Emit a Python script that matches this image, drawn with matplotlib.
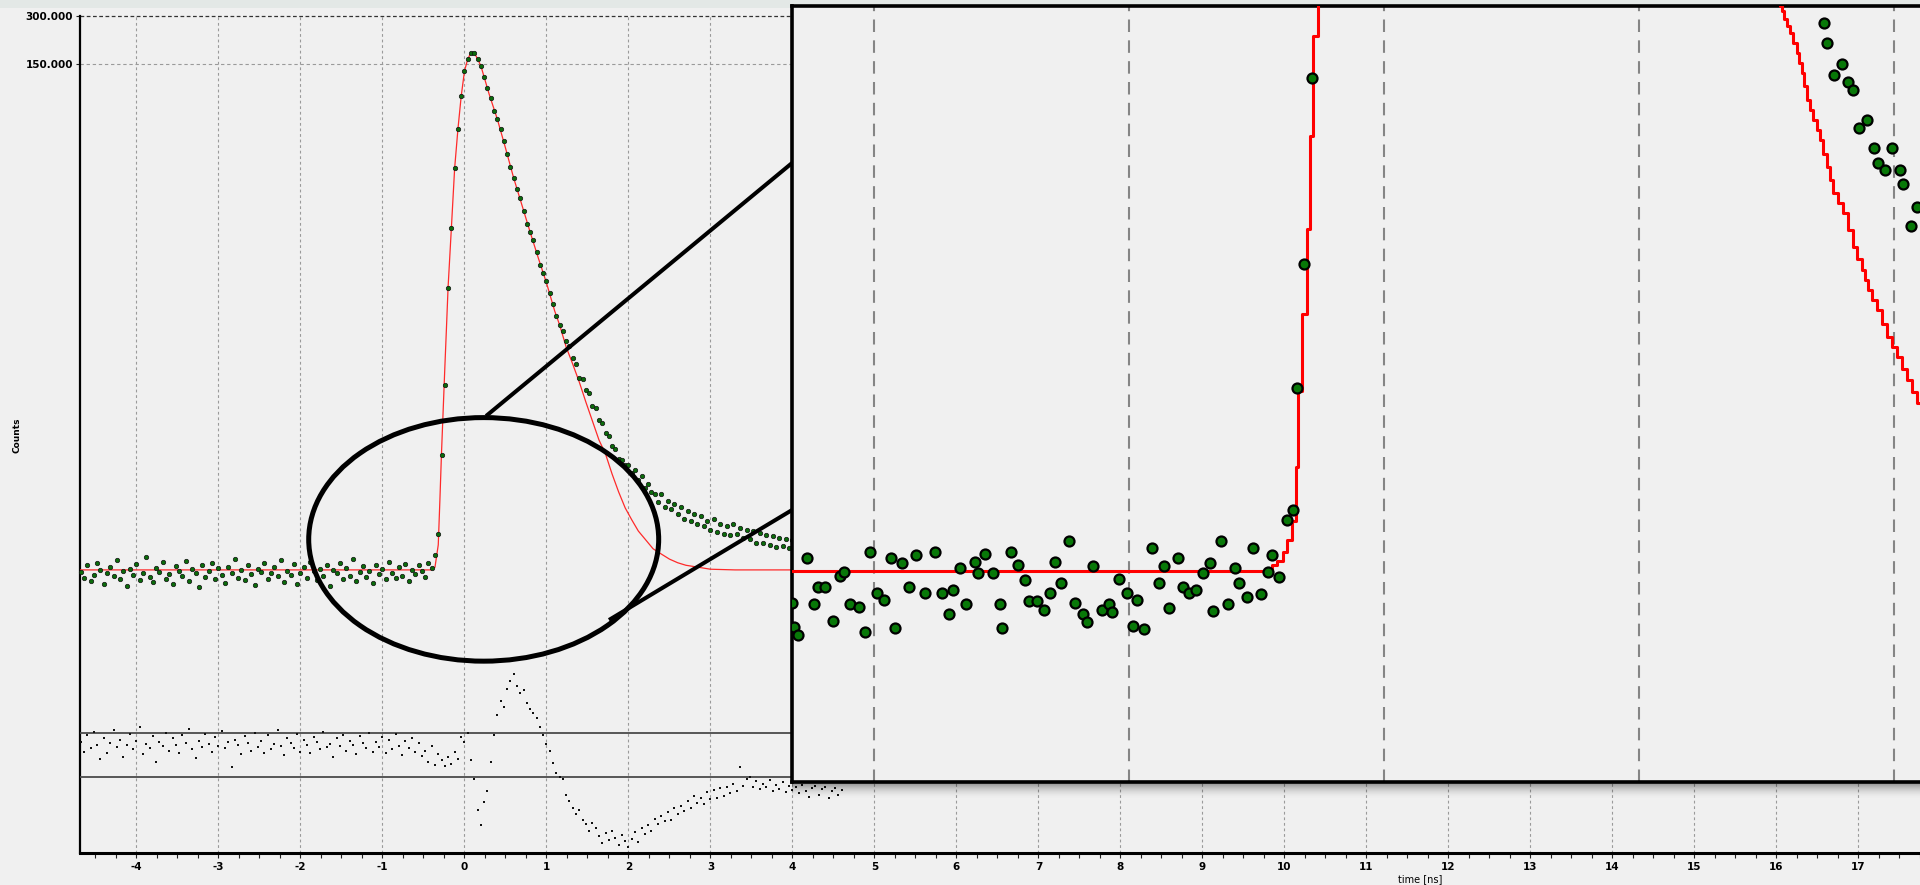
import numpy as np
import matplotlib
matplotlib.use("Agg")
import matplotlib.pyplot as plt
from matplotlib.patches import Ellipse, Rectangle
from matplotlib.ticker import NullLocator, MultipleLocator

plt.rcParams['font.family'] = ['DejaVu Sans']
plt.rcParams['axes.unicode_minus'] = False

# ---------------- data ----------------
T0, DT = -4.68, 0.04          # time of first channel and channel width [ns]

decay_counts = [
    0.098, 0.090, 0.109, 0.086, 0.094, 0.112, 0.101, 0.083, 0.096, 0.105,
    0.092, 0.117, 0.088, 0.099, 0.080, 0.103, 0.094, 0.110, 0.087, 0.097,
    0.121, 0.091, 0.085, 0.104, 0.098, 0.113, 0.089, 0.095, 0.082, 0.107,
    0.100, 0.093, 0.115, 0.086, 0.102, 0.096, 0.079, 0.108, 0.091, 0.099,
    0.111, 0.088, 0.104, 0.094, 0.084, 0.106, 0.097, 0.119, 0.090, 0.101,
    0.087, 0.109, 0.095, 0.081, 0.103, 0.098, 0.112, 0.089, 0.096, 0.106,
    0.092, 0.116, 0.085, 0.100, 0.094, 0.110, 0.083, 0.097, 0.105, 0.090,
    0.114, 0.099, 0.087, 0.103, 0.093, 0.108, 0.080, 0.101, 0.096, 0.111,
    0.089, 0.104, 0.092, 0.118, 0.086, 0.098, 0.107, 0.091, 0.100, 0.084,
    0.109, 0.095, 0.102, 0.088, 0.113, 0.097, 0.090, 0.106, 0.093, 0.110,
    0.086, 0.101, 0.095, 0.108, 0.099, 0.091, 0.112, 0.104, 0.125,
    0.17, 0.53, 1.46, 5.9, 14.1, 33.4, 58.7, 94.5, 135.6, 161.3,
    177.1, 175.8, 161.3, 145.8, 124.4, 106.1, 91.8, 76.0, 67.8, 58.7,
    49.5, 40.9, 33.8, 28.9, 24.7, 21.6, 18.0, 15.0, 13.3, 11.8,
    9.9, 8.3, 7.3, 6.5, 5.5, 4.7, 3.95, 3.47,
    3.20, 2.76, 2.55, 2.15, 1.98, 1.62, 1.58, 1.36, 1.30, 1.08,
    1.04, 0.88, 0.84, 0.73, 0.70, 0.60, 0.575, 0.50, 0.495, 0.46, 0.46,
    0.41, 0.43, 0.37, 0.39, 0.33, 0.35, 0.31, 0.30, 0.27, 0.30,
    0.25, 0.275, 0.245, 0.26, 0.225, 0.25, 0.21, 0.235, 0.205, 0.225,
    0.195, 0.22, 0.19, 0.205, 0.18, 0.21, 0.175, 0.195, 0.17, 0.19,
    0.168, 0.195, 0.17, 0.185, 0.16, 0.18, 0.158, 0.178, 0.15, 0.172,
    0.148, 0.168, 0.145, 0.165, 0.14, 0.16, 0.142, 0.158, 0.138, 0.155,
]

fit_time = [-4.69, -0.40, -0.36, -0.32, -0.30, -0.28, -0.26, -0.24, -0.22, -0.20,
            -0.16, -0.12, -0.08, -0.04, 0.00, 0.04, 0.08, 0.12, 0.16, 0.20,
            0.30, 0.40, 0.50, 0.60, 0.70, 0.80, 0.90, 1.00, 1.10, 1.16,
            1.24, 1.32, 1.40, 1.48, 1.56, 1.64, 1.72, 1.80, 1.88, 1.96,
            2.04, 2.12, 2.20, 2.30, 2.40, 2.50, 2.60, 2.70, 2.85, 3.00,
            3.30, 3.60, 4.00, 17.75]
fit_counts = [0.101, 0.101, 0.105, 0.145, 0.277, 0.554, 1.016, 1.863, 3.32, 6.00,
              14.06, 33.4, 58.7, 94.5, 135.6, 161.3, 177.1, 175.8, 161.3, 145.8,
              97.3, 67.8, 44.6, 28.9, 19.6, 13.27, 9.12, 6.36, 4.24, 3.47,
              2.52, 1.97, 1.52, 1.14, 0.867, 0.659, 0.538, 0.403, 0.311, 0.247,
              0.208, 0.177, 0.158, 0.137, 0.127, 0.118, 0.112, 0.108, 0.105, 0.102,
              0.101, 0.101, 0.101, 0.101]

residuals = [
    1.2, 0.3, 1.8, 0.6, 2.1, 0.9, -0.4, 1.5, 0.2, 1.1,
    2.3, 0.7, 1.4, -0.2, 0.9, 1.9, 0.5, 1.3, 2.5, 0.1,
    1.0, 0.6, 1.7, -0.6, 1.2, 0.8, 2.0, 0.4, 1.5, 0.9,
    0.2, 1.8, 1.1, 2.4, 0.5, -0.3, 1.3, 0.7, 1.9, 1.0,
    0.3, 1.6, 0.8, 2.2, 0.6, 1.2, -1.1, 1.4, 0.9, 0.1,
    1.7, 1.1, 0.4, 2.0, 0.7, 1.3, 0.2, 1.8, 0.5, 1.0,
    2.3, 0.8, 0.0, 1.5, 1.1, 0.6, 1.9, 0.3, 1.4, 0.9,
    0.2, 1.6, 1.2, 0.5, 2.1, 0.7, 1.0, -0.2, 1.5, 0.8,
    1.8, 0.4, 1.3, 0.9, 0.1, 1.7, 1.1, 0.6, 2.0, 0.3,
    1.2, 0.7, 1.6, 0.2, 1.4, 0.5, 1.9, 0.8, 0.0, 1.3,
    0.6, 1.5, 0.3, 1.1, -0.1,
    0.4, -0.6, 0.8, -0.9, 0.1, -0.5, -1.0, -0.2, -0.8, 0.3, -0.4, 1.6,
    1.2, 2.0, -0.5, -2.2, -5.0, -6.4, -4.3, -3.3, -0.6, 1.8,
    3.6, 4.9, 4.4, 6.0, 6.7, 7.4, 6.3, 5.6, 5.9, 4.7,
    4.2, 3.8, 3.4, 2.5, 1.8, 1.0, 0.4, -0.7, -1.6, -2.0,
    -2.2, -3.6, -4.2, -4.8, -5.4, -5.0, -5.9, -6.3, -6.9, -6.2,
    -6.6, -7.4, -8.0, -7.1, -7.7, -6.9, -7.5, -8.2, -7.3, -7.8,
    -8.4, -7.6, -7.0, -7.9, -6.6, -7.2, -6.4, -6.9, -5.8, -6.3,
    -5.5, -6.0, -5.2, -5.9, -4.8, -5.4, -4.6, -5.1, -4.2, -4.8,
    -3.7, -4.4, -3.9, -4.5, -3.4, -4.0, -3.2, -3.9, -3.0, -3.7,
    -2.9, -3.5, -2.6, -3.3, -1.1, -2.8, -2.2, -2.0, -2.9, -2.4,
    -3.1, -2.6, -2.9, -2.3, -3.3, -2.7, -3.1, -2.5, -3.4, -2.8,
    -3.2, -2.9, -3.5, -2.7, -3.3, -3.8, -3.0, -2.8, -3.6, -3.1,
    -2.9, -3.9, -3.3, -3.0, -3.6, -3.2,
]
resid_band = [-2.0, 2.0]

# magnified view (inset): time [ns] and signal above baseline
inset_points = [
    (-2.322, -0.32), (-2.315, -0.56), (-2.298, -0.64), (-2.263, 0.13), (-2.236, -0.33),
    (-2.220, -0.16), (-2.191, -0.16), (-2.162, -0.50), (-2.132, -0.05), (-2.119, -0.01),
    (-2.093, -0.33), (-2.060, -0.36), (-2.034, -0.61), (-2.015, 0.19), (-1.988, -0.22),
    (-1.962, -0.29), (-1.933, 0.13), (-1.919, -0.57), (-1.890, 0.08), (-1.864, -0.16),
    (-1.835, 0.16), (-1.799, -0.22), (-1.762, 0.19), (-1.733, -0.22), (-1.707, -0.43),
    (-1.690, -0.19), (-1.664, 0.03), (-1.638, -0.33), (-1.605, 0.09), (-1.592, -0.02),
    (-1.566, 0.17), (-1.535, -0.02), (-1.507, -0.33), (-1.498, -0.57), (-1.465, 0.19),
    (-1.435, 0.06), (-1.409, -0.09), (-1.391, -0.30), (-1.361, -0.30), (-1.335, -0.39),
    (-1.309, -0.22), (-1.291, 0.09), (-1.266, -0.12), (-1.236, 0.30), (-1.211, -0.32),
    (-1.182, -0.43), (-1.166, -0.51), (-1.140, 0.05), (-1.107, -0.39), (-1.077, -0.33),
    (-1.068, -0.41), (-1.038, -0.08), (-1.007, -0.22), (-0.985, -0.55), (-0.967, -0.29),
    (-0.941, -0.58), (-0.909, 0.23), (-0.881, -0.12), (-0.865, 0.05), (-0.842, -0.37),
    (-0.809, 0.13), (-0.787, -0.16), (-0.764, -0.22), (-0.737, -0.19), (-0.711, -0.02),
    (-0.682, 0.08), (-0.669, -0.40), (-0.639, 0.30), (-0.611, -0.33), (-0.584, 0.03),
    (-0.567, -0.12), (-0.538, -0.26), (-0.513, 0.23), (-0.484, -0.23), (-0.454, -0.01),
    (-0.440, 0.16), (-0.411, -0.06), (-0.382, 0.51), (-0.358, 0.61), (-0.342, 1.83),
    (-0.313, 3.07), (-0.284, 4.93),
    (1.725, 5.48), (1.738, 5.28), (1.765, 4.96), (1.795, 5.07), (1.821, 4.89),
    (1.840, 4.81), (1.864, 4.43), (1.893, 4.51), (1.923, 4.23), (1.938, 4.08),
    (1.965, 4.01), (1.993, 4.23), (2.024, 4.01), (2.036, 3.87), (2.065, 3.45),
    (2.089, 3.64),
]
inset_fit_x = [-2.33, -0.439, -0.420, -0.396, -0.380, -0.361, -0.345, -0.337, -0.322,
               -0.302, -0.290, -0.278, -0.259, 1.50, 1.552, 1.560, 1.570, 1.580, 1.592,
               1.604, 1.618, 1.628, 1.638, 1.648, 1.658, 1.671, 1.684, 1.697, 1.710,
               1.723, 1.736, 1.749, 1.762, 1.782, 1.801, 1.820, 1.840, 1.856, 1.873,
               1.886, 1.899, 1.915, 1.932, 1.951, 1.971, 1.991, 2.011, 2.030, 2.050,
               2.070, 2.089, 2.15]
inset_fit_y = [0.0, 0.06, 0.10, 0.19, 0.31, 0.50, 1.04, 1.80, 2.57,
               3.42, 4.35, 5.35, 7.0, 7.0, 5.65, 5.60, 5.52, 5.45, 5.38,
               5.28, 5.18, 5.08, 4.98, 4.85, 4.71, 4.61, 4.51, 4.41, 4.31,
               4.17, 4.04, 3.91, 3.78, 3.68, 3.58, 3.41, 3.24, 3.12, 3.01,
               2.91, 2.81, 2.71, 2.61, 2.47, 2.34, 2.24, 2.14, 2.02, 1.91,
               1.79, 1.68, 1.45]
inset_grid = [-2, -1, 0, 1, 2]

x_ticks = list(range(-4, 18))
x_tick_labels = [str(v) for v in x_ticks]
y_ticks = [150, 300]
y_tick_labels = ['150.000', '300.000']

decay_time = T0 + DT * np.arange(len(decay_counts))
resid_time = T0 + DT * np.arange(len(residuals))
inset_x = np.array([p[0] for p in inset_points])
inset_y = np.array([p[1] for p in inset_points])

# ---------------- figure ----------------
W, H, DPI = 1920, 885, 100
BG = '#f0f0f0'
fig = plt.figure(figsize=(W / DPI, H / DPI), dpi=DPI, facecolor=BG)


def prect(l, t, r, b):
    return [l / W, 1 - b / H, (r - l) / W, (b - t) / H]


fig.add_artist(Rectangle((0, 1 - 8 / H), 1, 8 / H, transform=fig.transFigure,
                         color='#e3e8e6', zorder=-1, lw=0))

# main axes
ax = fig.add_axes(prect(80, 16, 1920, 853))
ax.set_facecolor(BG)
ax.set_yscale('log')
ax.set_xlim(-4.689, 17.75)
ax.set_ylim(0.001696, 300)

ax.set_yticks(y_ticks)
ax.set_yticklabels(y_tick_labels, fontweight='bold', fontsize=7.5)
ax.yaxis.set_minor_locator(NullLocator())
ax.set_xticks(x_ticks)
ax.set_xticklabels(x_tick_labels, fontweight='bold', fontsize=7.5)
ax.xaxis.set_minor_locator(MultipleLocator(0.25))
ax.tick_params(axis='x', which='both', direction='out', length=3.5, width=0.8,
               pad=3, color='#222222')
ax.tick_params(axis='y', which='both', direction='out', length=3, width=0.8,
               pad=2, color='#222222')

for s in ('top', 'right'):
    ax.spines[s].set_visible(False)
ax.spines['left'].set_linewidth(1.6)
ax.spines['bottom'].set_linewidth(2.2)

for xv in x_ticks:
    ax.axvline(xv, color='#9a9a9a', lw=0.8, ls=(0, (2.5, 2.5)), zorder=1)
ax.axhline(y_ticks[0], color='#9a9a9a', lw=0.8, ls=(0, (3, 2.5)), zorder=1)
ax.axhline(y_ticks[1], color='#333333', lw=0.9, ls=(0, (3, 2)), zorder=1, clip_on=False)

ax.plot(fit_time, fit_counts, color='#ff2a2a', lw=0.9, zorder=3)
ax.plot(decay_time, decay_counts, 'o', ms=3.2, mfc='#0b6b0b', mec='#101010',
        mew=0.5, zorder=4, clip_on=False)

# magnifier ellipse and connector lines (axes-fraction placement)
ax.add_patch(Ellipse((0.2194, 0.3747), 0.1902, 0.2910, transform=ax.transAxes,
                     fill=False, ec='black', lw=3.6, zorder=6, clip_on=False))
ax.plot([0.2207, 0.3870], [0.5221, 0.8244], transform=ax.transAxes, color='black',
        lw=2.9, zorder=6, clip_on=False, solid_capstyle='butt')
ax.plot([0.2875, 0.3870], [0.2784, 0.4098], transform=ax.transAxes, color='black',
        lw=2.9, zorder=6, clip_on=False, solid_capstyle='butt')

# residual overlay axes
axr = fig.add_axes(prect(80, 16, 1920, 853), zorder=1)
axr.set_xlim(ax.get_xlim())
axr.set_ylim(-8.909, 67.18)
axr.axis('off')
for yv in resid_band:
    axr.axhline(yv, color='#4a4a4a', lw=1.3, zorder=2)
axr.plot(resid_time, residuals, 's', ms=1.5, color='#111111', mew=0, zorder=3)

# shadow under inset
for i in range(16):
    a = 0.38 * (1 - i / 16) ** 2
    fig.add_artist(Rectangle((792 / W, 1 - (784 + i) / H), (W - 792) / W, 1 / H,
                             transform=fig.transFigure, color='black', alpha=a,
                             lw=0, zorder=2))

# inset axes
axi = fig.add_axes(prect(792, 6, 1932, 782), zorder=3)
axi.set_facecolor(BG)
axi.set_xlim(-2.322, 2.149)
axi.set_ylim(-2.11, 5.65)
axi.set_xticks([])
axi.set_yticks([])
for s in axi.spines.values():
    s.set_linewidth(2.6)
    s.set_color('black')
for gx in inset_grid:
    axi.axvline(gx, color='#858585', lw=1.5, ls=(0, (6, 4)), zorder=1)
axi.plot(inset_fit_x, inset_fit_y, drawstyle='steps-post', color='#ff0000',
         lw=2.2, zorder=3)
axi.plot(inset_x, inset_y, 'o', ms=7.2, mfc='#087808', mec='black', mew=1.6,
         zorder=4)

# labels
fig.text(17 / W, 1 - 435 / H, 'Counts', rotation=90, fontsize=6.5,
         fontweight='bold', ha='center', va='center')
fig.text(1420 / W, 1 - 879 / H, 'time [ns]', fontsize=7, ha='center', va='center')

fig.savefig('out.png', dpi=DPI, facecolor=fig.get_facecolor())
